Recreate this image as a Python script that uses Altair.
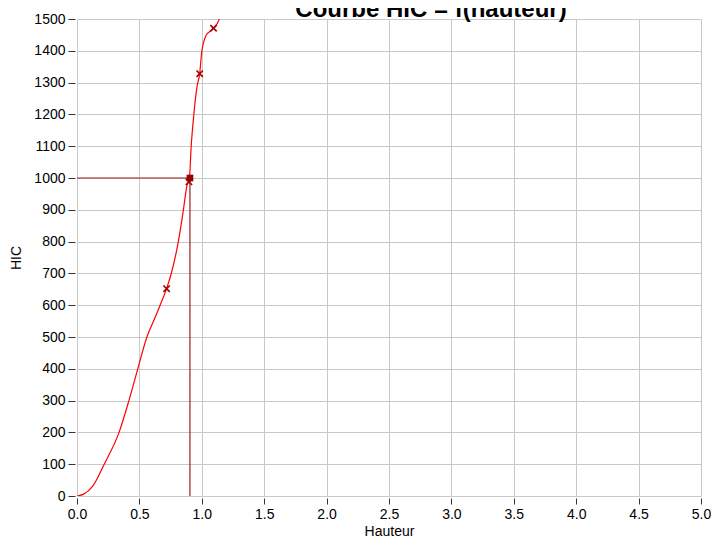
import altair as alt
import pandas as pd

# Curve HIC = f(hauteur)
curve_x = [0.0, 0.05, 0.126, 0.218, 0.337, 0.416, 0.487, 0.56, 0.63, 0.666, 0.718,
           0.757, 0.81, 0.849, 0.883, 0.9, 0.915, 0.936, 0.962, 0.983, 0.999,
           1.033, 1.094, 1.139, 1.16]
curve_y = [0, 5, 31, 100, 200, 300, 400, 500, 565, 600, 652,
           702, 796, 890, 979, 995, 1100, 1199, 1288, 1328, 1395,
           1447, 1471, 1499, 1530]

# measured points (x markers)
pts_x = [0.718, 0.897, 0.983, 1.094]
pts_y = [652, 988, 1328, 1471]

# selected point (square) and guide lines
sel_x = 0.905
sel_y = 1000

x_ticks = [0.0, 0.5, 1.0, 1.5, 2.0, 2.5, 3.0, 3.5, 4.0, 4.5, 5.0]
y_ticks = [0, 100, 200, 300, 400, 500, 600, 700, 800, 900, 1000, 1100, 1200, 1300, 1400, 1500]

FONT = "Liberation Sans"

curve_df = pd.DataFrame({"x": curve_x, "y": curve_y, "i": range(len(curve_x))})
pts_df = pd.DataFrame({"x": pts_x, "y": pts_y})
sel_df = pd.DataFrame({"x": [sel_x], "y": [sel_y]})
guide_df = pd.DataFrame({
    "x": [0.0, sel_x], "x2": [sel_x, sel_x],
    "y": [sel_y, 0], "y2": [sel_y, sel_y],
})

xscale = alt.Scale(domain=[0, 5], nice=False, zero=False)
yscale = alt.Scale(domain=[0, 1500], nice=False)

xaxis = alt.Axis(values=x_ticks, format=".1f", title="Hauteur", grid=True,
                 domain=False, tickSize=6, offset=2, labelPadding=3,
                 titlePadding=3, labelOverlap=False, labelFlush=False)
yaxis = alt.Axis(values=y_ticks, format="d", title="HIC", grid=True,
                 domain=False, tickSize=7, offset=2, labelPadding=3,
                 titlePadding=10, labelOverlap=False, labelFlush=False)

X = alt.X("x:Q", scale=xscale, axis=xaxis)
Y = alt.Y("y:Q", scale=yscale, axis=yaxis)

guides = alt.Chart(guide_df).mark_rule(color="#9b1c1c", strokeWidth=1.2).encode(
    x=X, x2="x2:Q", y=Y, y2="y2:Q",
)

line = alt.Chart(curve_df).mark_line(
    color="#ff0000", strokeWidth=1.2, interpolate="monotone", clip=True
).encode(x=X, y=Y, order="i:Q")

xmarks = alt.Chart(pts_df).mark_point(
    shape="M-1,-1L1,1M1,-1L-1,1", filled=False, color="#a00000",
    size=40, strokeWidth=1.6, opacity=1
).encode(x=X, y=Y)

square = alt.Chart(sel_df).mark_point(
    shape="square", filled=True, color="#990000", size=45, opacity=1
).encode(x=X, y=Y)

chart = alt.layer(guides, line, xmarks, square).properties(
    width=624,
    height=477,
    title=alt.TitleParams(
        text="Courbe HIC = f(hauteur)", font=FONT, fontSize=24, fontWeight="bold",
        color="#000000", anchor="middle", frame="group", dx=42, offset=-10,
    ),
    autosize=alt.AutoSizeParams(type="none"),
    padding={"left": 69, "top": 11, "right": 10, "bottom": 44},
).configure_view(
    strokeWidth=0
).configure_axis(
    labelFont=FONT, labelFontSize=14, labelColor="#000000",
    titleFont=FONT, titleFontSize=14, titleFontWeight="normal", titleColor="#000000",
    gridColor="#c8c8c8", gridWidth=1, gridOpacity=1,
    tickColor="#333333", tickWidth=1,
)

chart.save("out.html", embed_options={"renderer": "svg", "actions": False})
